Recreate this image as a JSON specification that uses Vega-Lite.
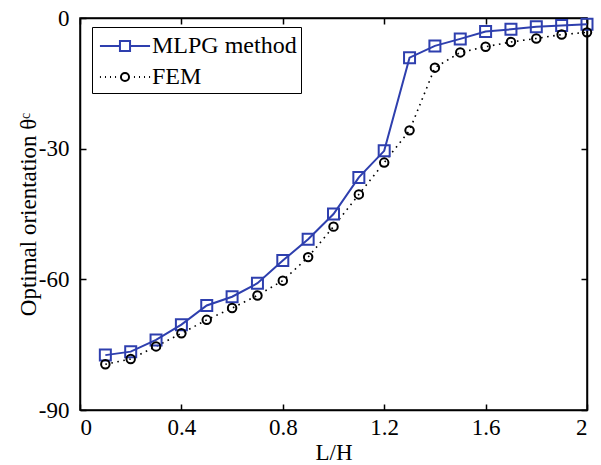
{
  "$schema": "https://vega.github.io/schema/vega-lite/v6.json",
  "width": 507,
  "height": 392,
  "autosize": "none",
  "padding": {"left": 80, "top": 18, "right": 14, "bottom": 55},
  "background": "white",
  "config": {
    "view": {"stroke": "black", "strokeWidth": 1.5},
    "font": "Liberation Serif",
    "axis": {
      "labelFont": "Liberation Serif",
      "titleFont": "Liberation Serif",
      "labelFontSize": 23,
      "titleFontSize": 23,
      "titleFontWeight": "normal",
      "labelColor": "black",
      "titleColor": "black",
      "domainColor": "black",
      "domainWidth": 1.5,
      "tickColor": "black",
      "tickWidth": 1.5,
      "tickSize": -6,
      "grid": false
    }
  },
  "data": {
    "values": [
      {"lh": 0.1, "theta": -77.4, "method": "MLPG method"},
      {"lh": 0.2, "theta": -76.6, "method": "MLPG method"},
      {"lh": 0.3, "theta": -73.9, "method": "MLPG method"},
      {"lh": 0.4, "theta": -70.4, "method": "MLPG method"},
      {"lh": 0.5, "theta": -66.0, "method": "MLPG method"},
      {"lh": 0.6, "theta": -64.0, "method": "MLPG method"},
      {"lh": 0.7, "theta": -60.9, "method": "MLPG method"},
      {"lh": 0.8, "theta": -55.7, "method": "MLPG method"},
      {"lh": 0.9, "theta": -50.8, "method": "MLPG method"},
      {"lh": 1.0, "theta": -45.0, "method": "MLPG method"},
      {"lh": 1.1, "theta": -36.6, "method": "MLPG method"},
      {"lh": 1.2, "theta": -30.5, "method": "MLPG method"},
      {"lh": 1.3, "theta": -9.1, "method": "MLPG method"},
      {"lh": 1.4, "theta": -6.4, "method": "MLPG method"},
      {"lh": 1.5, "theta": -4.8, "method": "MLPG method"},
      {"lh": 1.6, "theta": -3.1, "method": "MLPG method"},
      {"lh": 1.7, "theta": -2.6, "method": "MLPG method"},
      {"lh": 1.8, "theta": -2.0, "method": "MLPG method"},
      {"lh": 1.9, "theta": -1.7, "method": "MLPG method"},
      {"lh": 2.0, "theta": -1.45, "method": "MLPG method"},
      {"lh": 0.1, "theta": -79.5, "method": "FEM"},
      {"lh": 0.2, "theta": -78.3, "method": "FEM"},
      {"lh": 0.3, "theta": -75.4, "method": "FEM"},
      {"lh": 0.4, "theta": -72.4, "method": "FEM"},
      {"lh": 0.5, "theta": -69.3, "method": "FEM"},
      {"lh": 0.6, "theta": -66.6, "method": "FEM"},
      {"lh": 0.7, "theta": -63.7, "method": "FEM"},
      {"lh": 0.8, "theta": -60.3, "method": "FEM"},
      {"lh": 0.9, "theta": -54.9, "method": "FEM"},
      {"lh": 1.0, "theta": -47.9, "method": "FEM"},
      {"lh": 1.1, "theta": -40.5, "method": "FEM"},
      {"lh": 1.2, "theta": -33.2, "method": "FEM"},
      {"lh": 1.3, "theta": -25.8, "method": "FEM"},
      {"lh": 1.4, "theta": -11.4, "method": "FEM"},
      {"lh": 1.5, "theta": -7.9, "method": "FEM"},
      {"lh": 1.6, "theta": -6.6, "method": "FEM"},
      {"lh": 1.7, "theta": -5.5, "method": "FEM"},
      {"lh": 1.8, "theta": -4.7, "method": "FEM"},
      {"lh": 1.9, "theta": -3.8, "method": "FEM"},
      {"lh": 2.0, "theta": -3.3, "method": "FEM"}
    ]
  },
  "layer": [
    {
      "transform": [{"filter": "datum.method === 'MLPG method'"}],
      "mark": {"type": "line", "strokeWidth": 2},
      "encoding": {
        "x": {"field": "lh", "type": "quantitative", "scale": {"domain": [0, 2], "nice": false, "zero": false},
              "axis": {"title": "L/H", "values": [0, 0.4, 0.8, 1.2, 1.6, 2], "format": "~g", "labelPadding": 12, "titlePadding": 2}},
        "y": {"field": "theta", "type": "quantitative", "scale": {"domain": [-90, 0], "nice": false},
              "axis": {"title": "Optimal orientation θᶜ", "values": [-90, -60, -30, 0], "labelExpr": "toString(datum.value)", "labelPadding": 17, "titlePadding": -2}},
        "color": {"field": "method", "type": "nominal",
                  "scale": {"domain": ["MLPG method", "FEM"], "range": ["#2e3fae", "black"]},
                  "legend": {
                    "title": null,
                    "orient": "none",
                    "legendX": 12,
                    "legendY": 9,
                    "padding": 4,
                    "strokeColor": "black",
                    "fillColor": "white",
                    "symbolSize": 784,
                    "symbolOffset": 14,
                    "symbolStrokeWidth": 2,
                    "symbolType": "M-1.79,0H-0.36M0.36,0H1.79M-0.36,-0.36H0.36V0.36H-0.36Z",
                    "labelOffset": 12,
                    "labelFont": "Liberation Serif",
                    "labelFontSize": 24,
                    "labelColor": "black",
                    "rowPadding": 4,
                    "encode": {
                      "symbols": {
                        "update": {
                          "shape": {"signal": "datum.value === 'FEM' ? 'M-1.79,0h0.07M-1.43,0h0.07M-1.07,0h0.07M-0.71,0h0.07M0.64,0h0.07M1.0,0h0.07M1.36,0h0.07M1.72,0h0.07M-0.29,0A0.29,0.29 0 1 0 0.29,0A0.29,0.29 0 1 0 -0.29,0Z' : 'M-1.79,0H-0.36M0.36,0H1.79M-0.36,-0.36H0.36V0.36H-0.36Z'"},
                          "fill": {"value": "transparent"},
                          "strokeWidth": {"value": 2}
                        }
                      }
                    }
                  }}
      }
    },
    {
      "transform": [{"filter": "datum.method === 'FEM'"}],
      "mark": {"type": "line", "strokeWidth": 1.6, "strokeDash": [1.6, 4.5]},
      "encoding": {
        "x": {"field": "lh", "type": "quantitative", "axis": null},
        "y": {"field": "theta", "type": "quantitative", "axis": null},
        "color": {"field": "method", "type": "nominal", "legend": null}
      }
    },
    {
      "transform": [{"filter": "datum.method === 'MLPG method'"}],
      "mark": {"type": "point", "shape": "square", "size": 121, "filled": false, "strokeWidth": 2, "opacity": 1},
      "encoding": {
        "x": {"field": "lh", "type": "quantitative", "axis": null},
        "y": {"field": "theta", "type": "quantitative", "axis": null},
        "color": {"field": "method", "type": "nominal", "legend": null}
      }
    },
    {
      "transform": [{"filter": "datum.method === 'FEM'"}],
      "mark": {"type": "point", "shape": "circle", "size": 72, "filled": false, "strokeWidth": 2, "opacity": 1},
      "encoding": {
        "x": {"field": "lh", "type": "quantitative", "axis": null},
        "y": {"field": "theta", "type": "quantitative", "axis": null},
        "color": {"field": "method", "type": "nominal", "legend": null}
      }
    },
    {
      "mark": {"type": "point", "opacity": 0},
      "encoding": {
        "x": {"field": "lh", "type": "quantitative",
              "axis": {"orient": "top", "title": null, "labels": false, "values": [0, 0.4, 0.8, 1.2, 1.6, 2]}},
        "y": {"field": "theta", "type": "quantitative",
              "axis": {"orient": "right", "title": null, "labels": false, "values": [-90, -60, -30, 0]}}
      }
    }
  ],
  "resolve": {"axis": {"x": "independent", "y": "independent"}}
}
